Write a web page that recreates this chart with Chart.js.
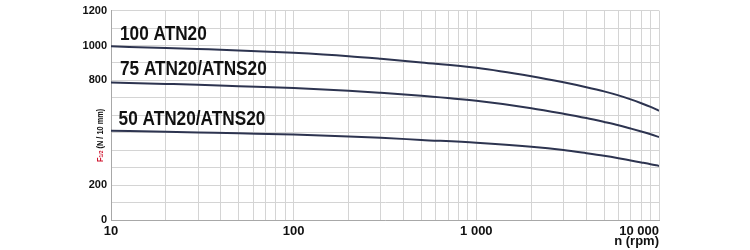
<!DOCTYPE html>
<html lang="en">
<head>
<meta charset="UTF-8">
<title>Radial load vs speed</title>
<script src="https://cdn.jsdelivr.net/npm/chart.js"></script>
<style>
  html, body { margin: 0; padding: 0; background: #fff; }
  .wrap { width: 750px; height: 250px; }
</style>
</head>
<body>
<div class="wrap"><canvas id="loadChart" width="750" height="250"></canvas></div>
<script>
// speed (rpm) and load F1/2 (N / 10 mm)
const speeds = [10, 20, 30, 50, 100, 200, 300, 500, 1000, 2000, 3000, 4000, 5000, 6000, 7000, 8000, 9000, 10000];
const load100 = [995, 986, 980, 972, 958, 939, 924, 903, 873, 824, 789, 761, 737, 714, 691, 669, 648, 626];
const load75 = [788, 780, 775, 767, 756, 741, 729, 712, 683, 641, 609, 584, 562, 543, 524, 507, 491, 475];
const load50 = [511, 506, 502, 497, 490, 479, 471, 459, 443, 420, 401, 383, 368, 354, 341, 330, 320, 310];
const seriesNames = ['100 ATN20', '75 ATN20/ATNS20', '50 ATN20/ATNS20'];
const xTickValues = [10, 100, 1000, 10000];
const xTickLabels = ['10', '100', '1 000', '10 000'];
const yTickLabels = [0, 200, 800, 1000, 1200];

const SANS = '"Liberation Sans", Arial, sans-serif';
const LINE = '#2d3450';

function toPoints(values) {
  return speeds.map((s, i) => ({ x: s, y: values[i] }));
}

// fake a condensed face by squeezing the canvas horizontally
function narrowText(ctx, text, x, y, squeeze) {
  ctx.save();
  ctx.translate(x, y);
  ctx.scale(squeeze, 1);
  ctx.fillText(text, 0, 0);
  ctx.restore();
}

// text drawn inside the plot + the two-colour y title
const labelPlugin = {
  id: 'curveLabels',
  afterDraw(chart) {
    const { ctx, scales: { x, y } } = chart;
    ctx.save();
    ctx.fillStyle = '#111';
    ctx.textBaseline = 'alphabetic';
    ctx.textAlign = 'left';
    ctx.font = 'bold 21px ' + SANS;
    const anchors = [[11.2, 1034], [11.2, 830], [11.0, 546]];
    seriesNames.forEach((name, i) => {
      narrowText(ctx, name, x.getPixelForValue(anchors[i][0]), y.getPixelForValue(anchors[i][1]), 0.82);
    });

    // F1/2 (N / 10 mm), rotated
    const sq = 0.82;
    const big = 'bold 9px ' + SANS;
    const small = 'bold 6px ' + SANS;
    ctx.font = big;
    const wF = ctx.measureText('F').width * sq;
    const wRest = ctx.measureText(' (N / 10 mm)').width * sq;
    ctx.font = small;
    const wSub = ctx.measureText('1/2').width * sq;
    const total = wF + wSub + wRest;
    ctx.translate(103, y.getPixelForValue(485));
    ctx.rotate(-Math.PI / 2);
    let px = -total / 2;
    ctx.fillStyle = '#d0112b';
    ctx.font = big;
    narrowText(ctx, 'F', px, 0, sq);
    px += wF;
    ctx.font = small;
    narrowText(ctx, '1/2', px, 0, sq);
    px += wSub;
    ctx.fillStyle = '#111';
    ctx.font = big;
    narrowText(ctx, ' (N / 10 mm)', px, 0, sq);
    ctx.restore();
  }
};

const ctx = document.getElementById('loadChart').getContext('2d');
new Chart(ctx, {
  type: 'line',
  data: {
    datasets: [
      { label: seriesNames[0], data: toPoints(load100) },
      { label: seriesNames[1], data: toPoints(load75) },
      { label: seriesNames[2], data: toPoints(load50) }
    ].map(d => Object.assign(d, {
      borderColor: LINE,
      borderWidth: 2,
      pointRadius: 0,
      fill: false,
      cubicInterpolationMode: 'monotone'
    }))
  },
  options: {
    responsive: false,
    animation: false,
    layout: { padding: { left: 0, right: 91, top: 7, bottom: 0 } },
    plugins: {
      legend: { display: false },
      tooltip: { enabled: false }
    },
    scales: {
      x: {
        type: 'logarithmic',
        min: 10,
        max: 10000,
        afterBuildTicks(scale) {
          const t = [];
          for (let d = 10; d < 10000; d *= 10) {
            for (let m = 1; m < 10; m++) t.push({ value: m * d });
          }
          t.push({ value: 10000 });
          scale.ticks = t;
        },
        afterFit(scale) { scale.height = 30; },
        grid: { color: '#d4d4d4', drawTicks: false },
        border: { color: '#a8a8a8' },
        ticks: {
          autoSkip: false,
          maxRotation: 0,
          padding: 4,
          color: '#111',
          font: { family: SANS, size: 13, weight: 'bold' },
          callback(value) {
            const i = xTickValues.indexOf(Math.round(value));
            if (i < 0) return '';
            // last label sits left of its line, flush with the plot edge:
            // trailing no-break spaces pull the centred text to the left
            return i === xTickValues.length - 1 ? xTickLabels[i] + '\u00a0'.repeat(11) : xTickLabels[i];
          }
        },
        title: {
          display: true,
          text: 'n (rpm)',
          align: 'end',
          color: '#111',
          padding: { top: 0, bottom: 1 },
          font: { family: SANS, size: 13, weight: 'bold' }
        }
      },
      y: {
        min: 0,
        max: 1200,
        afterFit(scale) { scale.width = 111; },
        grid: { color: '#d4d4d4', drawTicks: false },
        border: { color: '#a8a8a8' },
        ticks: {
          stepSize: 100,
          padding: 4,
          color: '#111',
          font: { family: SANS, size: 11, weight: 'bold' },
          callback(value) {
            return yTickLabels.includes(value) ? String(value) : '';
          }
        }
      }
    }
  },
  plugins: [labelPlugin]
});
</script>
</body>
</html>
